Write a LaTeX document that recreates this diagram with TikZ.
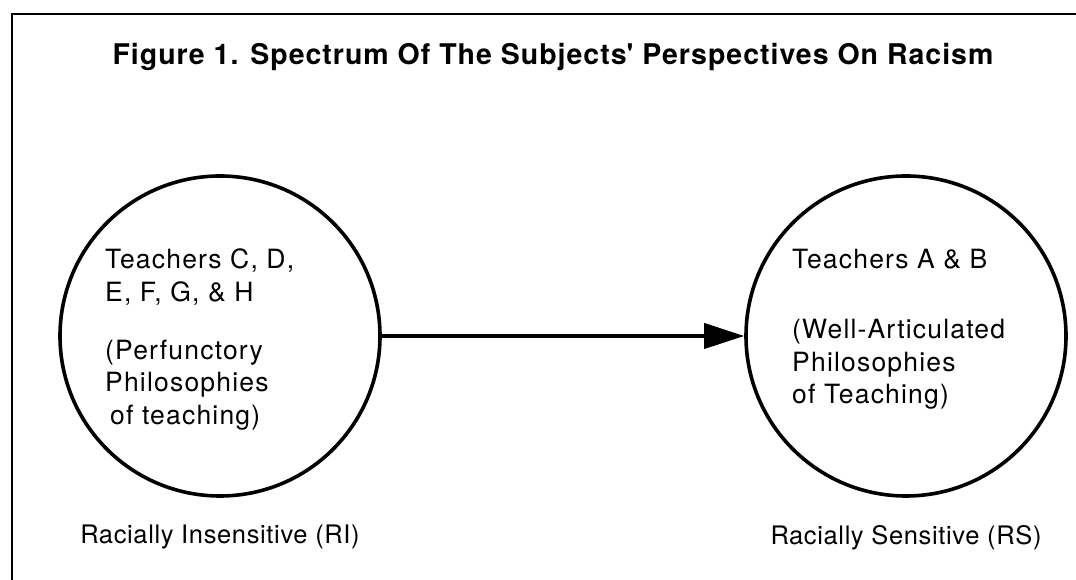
\documentclass[tikz,border=0pt]{standalone}
\usepackage{fontspec}
\setmainfont{TeX Gyre Heros}
\usetikzlibrary{arrows.meta,positioning}
\tikzset{
  spectrumcircle/.style={draw=black,circle,line width=3.6pt,inner sep=0pt,
    minimum size=320pt},
  circletext/.style={align=left,inner sep=0pt,anchor=north west,
    font=\fontsize{26.5}{32.5}\selectfont\addfontfeature{LetterSpace=4.5}},
  sidelabel/.style={inner sep=0pt,
    font=\fontsize{25.5}{29}\selectfont\addfontfeature{LetterSpace=2.5}},
  spectrumarrow/.style={-{Triangle[length=40pt,width=25pt]},
    line width=4pt,draw=black},
  framerule/.style={draw=black,line width=2pt},
}

\begin{document}
\begin{tikzpicture}[x=1pt,y=1pt]
\useasboundingbox (0,0) rectangle (1076,580);
\draw[framerule] (12,0) -- (12,566) -- (1076,566);
\node[anchor=base,inner sep=0pt,font=\fontsize{28.5}{34}\selectfont\bfseries\addfontfeature{LetterSpace=3.5}] (title) at (553,515) {Figure 1. Spectrum Of The Subjects\textquotesingle\ Perspectives On Racism};
\node[spectrumcircle] (ri) at (220,244) {};
\node[spectrumcircle] (rs) at (906,244) {};
\node[circletext] (riwho) at (105,331) {Teachers C, D,\\E, F, G, \& H\\[25.5pt](Perfunctory\\Philosophies\\\hspace*{5pt}of teaching)};
\node[circletext] (rswho) at (792,331) {Teachers A \& B\\[37.5pt](Well-Articulated\\Philosophies\\of Teaching)};
\draw[spectrumarrow] (ri.east) -- (rs.west);
\node[sidelabel,below=27pt of ri] (rilabel) {Racially Insensitive (RI)};
\node[sidelabel,below=27pt of rs] (rslabel) {Racially Sensitive (RS)};
\end{tikzpicture}
\end{document}
